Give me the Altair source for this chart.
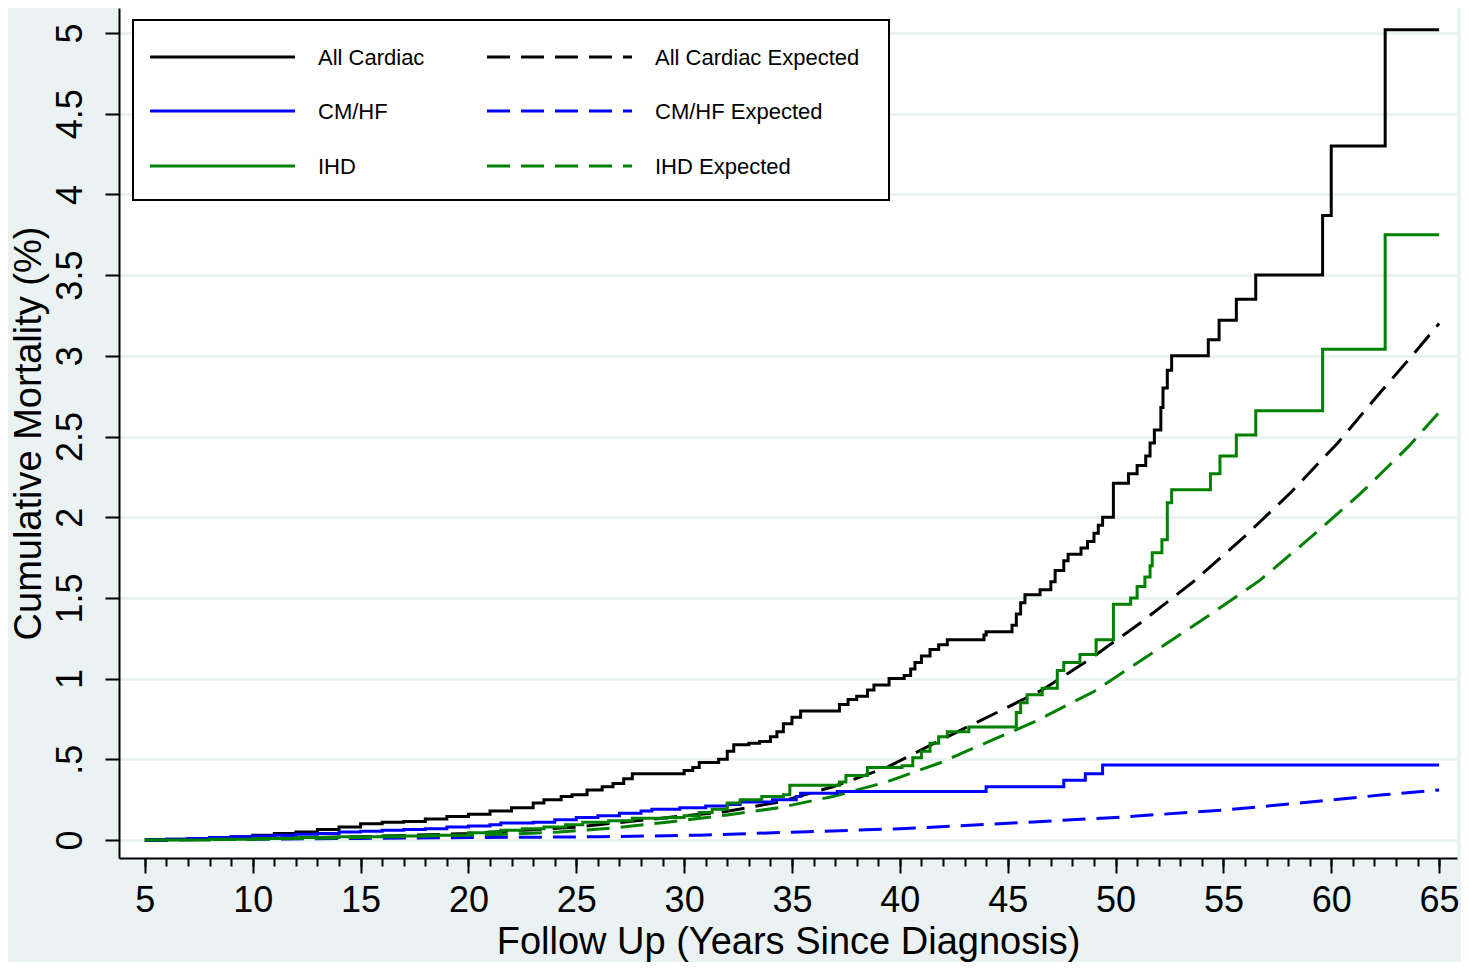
import altair as alt
import pandas as pd

# ---- data ----
allc_x = [5, 6, 7, 8, 9, 10, 11, 12, 13, 14, 15, 16, 17, 18, 19, 20, 21, 22, 23, 23.5, 24.3, 24.8,
          25.5, 26.2, 26.7, 27.2, 27.6, 30.0, 30.4, 30.7, 31.6, 32.0, 32.3, 33.0, 33.5, 34.0, 34.3,
          34.6, 35.0, 35.4, 37.2, 37.6, 38.0, 38.5, 38.8, 39.5, 40.2, 40.5, 40.7, 41.0, 41.4, 41.8,
          42.2, 43.9, 44.0, 45.2, 45.4, 45.6, 45.8, 46.5, 47.0, 47.2, 47.6, 47.8, 48.4, 48.7, 49.0,
          49.2, 49.4, 49.9, 50.6, 51.0, 51.4, 51.6, 51.8, 52.1, 52.2, 52.4, 52.6, 54.3, 54.8, 55.6,
          56.5, 59.6, 60.0, 62.5, 65]
allc_y = [0, 0.005, 0.01, 0.015, 0.02, 0.03, 0.04, 0.05, 0.065, 0.08, 0.1, 0.11, 0.115, 0.13, 0.145,
          0.16, 0.18, 0.2, 0.23, 0.25, 0.27, 0.28, 0.31, 0.33, 0.35, 0.38, 0.41, 0.43, 0.45, 0.48,
          0.5, 0.55, 0.59, 0.6, 0.61, 0.64, 0.67, 0.72, 0.76, 0.8, 0.84, 0.87, 0.89, 0.93, 0.96, 1.0,
          1.02, 1.06, 1.1, 1.14, 1.18, 1.21, 1.24, 1.27, 1.29, 1.33, 1.4, 1.47, 1.52, 1.55, 1.6,
          1.67, 1.73, 1.77, 1.81, 1.85, 1.9, 1.95, 2.0, 2.21, 2.27, 2.32, 2.38, 2.46, 2.54, 2.68,
          2.8, 2.91, 3.0, 3.1, 3.22, 3.35, 3.5, 3.87, 4.3, 5.02, 5.02]

cmhf_x = [5, 6, 7, 8, 9, 10, 11, 12, 13, 14, 15, 16, 17, 18, 19, 20, 21, 21.5, 23, 24, 25, 26, 27,
          28, 28.5, 29.8, 31, 32, 32.6, 34.1, 35.2, 35.4, 37.1, 44.0, 47.6, 48.6, 49.4, 65]
cmhf_y = [0, 0.005, 0.01, 0.015, 0.02, 0.025, 0.03, 0.035, 0.04, 0.05, 0.055, 0.06, 0.065, 0.07,
          0.08, 0.087, 0.095, 0.105, 0.11, 0.125, 0.14, 0.15, 0.165, 0.18, 0.19, 0.2, 0.21, 0.22,
          0.235, 0.25, 0.27, 0.29, 0.3, 0.33, 0.37, 0.41, 0.465, 0.465]

ihd_x = [5, 8, 10, 12, 14, 16, 18, 20, 21, 21.5, 22.5, 23.5, 24.5, 25.3, 26.5, 27.6, 29.2, 30, 30.7,
         31.3, 32, 32.6, 33.6, 34.6, 34.9, 37.2, 37.5, 38.5, 40.1, 40.6, 41.0, 41.4, 41.8, 42.2,
         43.2, 45.4, 45.6, 45.9, 46.6, 47.3, 47.6, 48.35, 49.1, 49.9, 50.7, 51.0, 51.36, 51.6,
         51.7, 52.15, 52.4, 52.6, 54.4, 54.84, 55.6, 56.5, 59.6, 62.5, 65]
ihd_y = [0, 0.005, 0.01, 0.015, 0.02, 0.025, 0.03, 0.045, 0.05, 0.06, 0.07, 0.08, 0.095, 0.11, 0.12,
         0.135, 0.14, 0.15, 0.17, 0.19, 0.23, 0.25, 0.27, 0.28, 0.34, 0.36, 0.4, 0.45, 0.46, 0.51,
         0.55, 0.6, 0.64, 0.67, 0.7, 0.79, 0.85, 0.9, 0.94, 1.05, 1.1, 1.15, 1.24, 1.46, 1.5, 1.57,
         1.63, 1.7, 1.78, 1.86, 2.09, 2.17, 2.27, 2.38, 2.51, 2.66, 3.04, 3.75, 3.75]

allc_exp_x = [5, 10, 15, 20, 25, 30, 31.65, 34.4, 36.9, 39.4, 41.9, 44.5, 46.6, 48.8, 51.1, 53.6,
              55.9, 58.1, 60.3, 62.25, 64, 65]
allc_exp_y = [0, 0.01, 0.02, 0.04, 0.08, 0.15, 0.17, 0.235, 0.33, 0.45, 0.62, 0.79, 0.93, 1.12,
              1.34, 1.6, 1.87, 2.15, 2.46, 2.77, 3.04, 3.2]

cmhf_exp_x = [5, 10, 15, 20, 26.1, 30.7, 35.4, 40, 44.6, 50, 55, 59.8, 62.4, 65]
cmhf_exp_y = [0, 0.005, 0.01, 0.015, 0.02, 0.03, 0.05, 0.07, 0.1, 0.14, 0.185, 0.245, 0.28, 0.31]

ihd_exp_x = [5, 10, 15, 20, 22, 24.2, 26.7, 29.2, 32, 34.4, 36.9, 39.4, 41.9, 43.25, 44.3, 46.2, 49,
             51.6, 54.2, 56.7, 59, 61.3, 63.6, 65]
ihd_exp_y = [0, 0.005, 0.015, 0.03, 0.037, 0.05, 0.074, 0.11, 0.155, 0.2, 0.27, 0.36, 0.48, 0.56,
             0.62, 0.73, 0.92, 1.15, 1.38, 1.61, 1.87, 2.14, 2.44, 2.65]

series_names = ["All Cardiac", "CM/HF", "IHD",
                "All Cardiac Expected", "CM/HF Expected", "IHD Expected"]
series_colors = ["#000000", "#0000FF", "#008000", "#000000", "#0000FF", "#008000"]

x_ticks = [5, 10, 15, 20, 25, 30, 35, 40, 45, 50, 55, 60, 65]
x_minor = list(range(5, 66))
y_ticks = [0, 0.5, 1, 1.5, 2, 2.5, 3, 3.5, 4, 4.5, 5]

FONT = "Liberation Sans"
BG = "#EAF2F3"
W, H = 1338, 850
DASH = [23, 11]
LW = 3

xscale = alt.Scale(domain=[3.8, 65.83], nice=False, zero=False)
yscale = alt.Scale(domain=[-0.1115, 5.155], nice=False, zero=False)

x_axis_major = alt.Axis(
    orient="bottom",
    values=x_ticks, title="Follow Up (Years Since Diagnosis)", grid=False,
    tickSize=15, tickWidth=2, tickColor="black", domainColor="black", domainWidth=2,
    labelFont=FONT, labelFontSize=36, labelColor="black", labelPadding=10,
    titleFont=FONT, titleFontSize=38, titleFontWeight="normal", titleColor="black",
    titlePadding=5, labelFlush=False,
)
x_axis_minor = alt.Axis(
    orient="bottom",
    values=x_minor, title=None, labels=False, grid=False, domain=False,
    tickSize=8, tickWidth=2, tickColor="black",
)
y_axis = alt.Axis(
    orient="left",
    values=y_ticks, title="Cumulative Mortality (%)", grid=True, gridColor=BG, gridWidth=3,
    tickSize=14, tickWidth=2, tickColor="black", domainColor="black", domainWidth=2,
    labelFont=FONT, labelFontSize=36, labelColor="black", labelAngle=270,
    labelAlign="center", labelBaseline="bottom", labelPadding=16,
    labelExpr="datum.value == 0.5 ? '.5' : format(datum.value, '~g')",
    titleFont=FONT, titleFontSize=38, titleFontWeight="normal", titleColor="black",
    titlePadding=4,
)


def frame(xs, ys):
    return pd.DataFrame({"x": xs, "y": ys})


def series_layer(xs, ys, color, dashed, step):
    mark_kwargs = dict(color=color, strokeWidth=LW, clip=True)
    if dashed:
        mark_kwargs["strokeDash"] = DASH
    if step:
        mark_kwargs["interpolate"] = "step-after"
    return alt.Chart(frame(xs, ys)).mark_line(**mark_kwargs).encode(
        x=alt.X("x:Q", scale=xscale, axis=x_axis_major),
        y=alt.Y("y:Q", scale=yscale, axis=y_axis),
    )


# minor-tick axis layer (invisible line)
minor_layer = alt.Chart(frame(allc_x, allc_y)).mark_line(opacity=0).encode(
    x=alt.X("x:Q", scale=xscale, axis=x_axis_minor),
    y=alt.Y("y:Q", scale=yscale, axis=y_axis),
)

data_layers = alt.layer(
    series_layer(allc_exp_x, allc_exp_y, series_colors[3], True, False),
    series_layer(cmhf_exp_x, cmhf_exp_y, series_colors[4], True, False),
    series_layer(ihd_exp_x, ihd_exp_y, series_colors[5], True, False),
    series_layer(allc_x, allc_y, series_colors[0], False, True),
    series_layer(cmhf_x, cmhf_y, series_colors[1], False, True),
    series_layer(ihd_x, ihd_y, series_colors[2], False, True),
)

# ---- legend box (drawn by hand, two columns) ----
one = pd.DataFrame({"a": [0]})
legend_layers = [
    alt.Chart(one).mark_rect(fill="white", stroke="black", strokeWidth=2).encode(
        x=alt.value(14), x2=alt.value(770), y=alt.value(12), y2=alt.value(192))
]
row_y = [49, 103, 158]
col_x = [(31, 176, 199), (368, 513, 536)]
order = [(0, 0), (1, 0), (2, 0), (0, 1), (1, 1), (2, 1)]
for i, (r, c) in enumerate(order):
    x0, x1, xt = col_x[c]
    rule_kwargs = dict(color=series_colors[i], strokeWidth=LW)
    if c == 1:
        rule_kwargs["strokeDash"] = DASH
    legend_layers.append(
        alt.Chart(one).mark_rule(**rule_kwargs).encode(
            x=alt.value(x0), x2=alt.value(x1), y=alt.value(row_y[r]))
    )
    legend_layers.append(
        alt.Chart(one).mark_text(text=series_names[i], font=FONT, fontSize=22, color="black",
                                 align="left", baseline="middle").encode(
            x=alt.value(xt), y=alt.value(row_y[r] + 1))
    )

chart = alt.layer(minor_layer, data_layers, *legend_layers).resolve_axis(x="independent").properties(
    width=W, height=H,
    background=BG,
    padding={"left": 111, "top": 0, "right": 4, "bottom": 104},
    autosize=alt.AutoSizeParams(type="none"),
).configure_view(fill="white", stroke=None)

chart.save("out.html", embed_options={"renderer": "svg", "actions": False})
